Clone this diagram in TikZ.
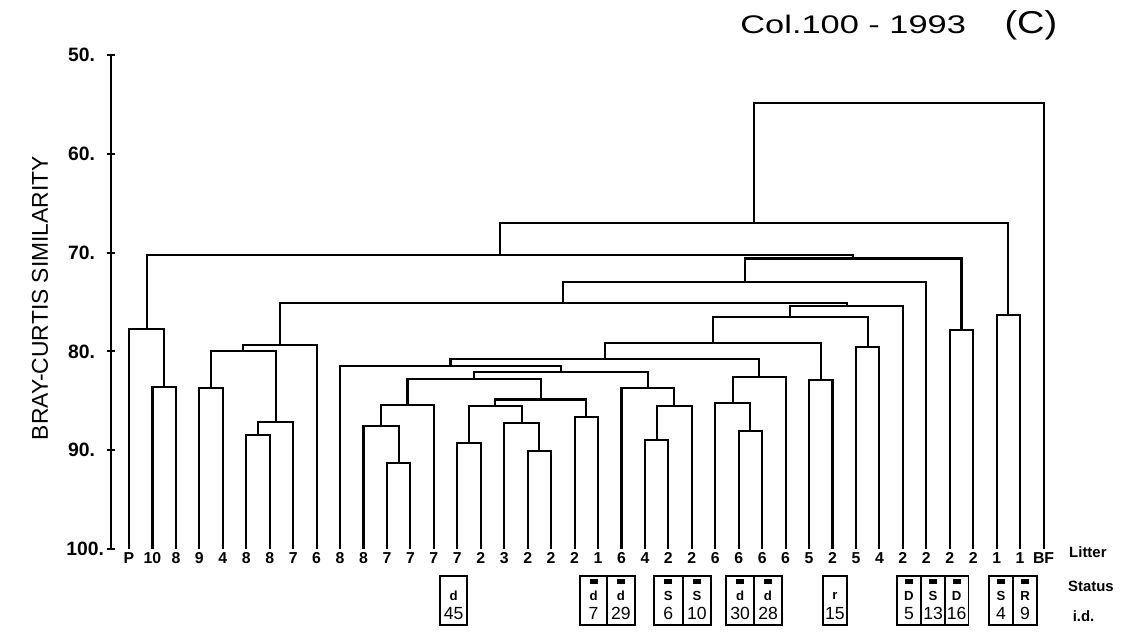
\documentclass[tikz,border=0pt]{standalone}
\usepackage{fontspec}
\setmainfont{Liberation Sans}
\usetikzlibrary{calc}

\begin{document}
\begin{tikzpicture}[
    x=0.469cm, y=-0.1976cm, % one leaf per x unit, similarity on y
    line width=1.2pt,
    leaf/.style={font=\bfseries\fontsize{9}{10}\selectfont, inner sep=0pt},
    tick/.style={font=\bfseries\fontsize{11}{12}\selectfont, anchor=east, inner sep=0pt},
    statbox/.style={draw, line width=1pt, minimum width=#1, minimum height=0.98cm, inner sep=0pt},
    status/.style={font=\bfseries\fontsize{7.5}{8}\selectfont, inner sep=0pt},
    idnum/.style={font=\fontsize{10}{11}\selectfont, inner sep=0pt},
    rowlabel/.style={font=\bfseries\fontsize{8.5}{9}\selectfont, anchor=west, inner sep=0pt}
]
\useasboundingbox (-5.501,44.433) rectangle (43.198,108.30);

% Title
\node[anchor=east, font=\fontsize{14.5}{16}\selectfont] (title) at (35.99,46.86) {\scalebox{1.35}[1]{Col.100 - 1993}};
\node[font=\fontsize{18}{20}\selectfont] (panel) at (38.46,47.0) {\scalebox{1.2}[1]{(C)}};

% Axis
\draw (-0.77,50) -- (-0.77,100);
\foreach \v in {50,60,...,100}
  \draw (-0.94,\v) -- (-0.6,\v);
\foreach \v in {50,60,...,90}
  \node[tick] at (-1.41,\v) {\v.};
\node[tick] at (-1.02,100) {100.};
\node[rotate=90, font=\fontsize{13}{15}\selectfont] (ylab) at (-3.8,74.6) {BRAY-CURTIS SIMILARITY};

% Leaves (litter size below)
\foreach \lab [count=\i from 0] in {P,10,8,9,4,8,8,7,6,8,8,7,7,7,7,2,3,2,2,2,1,6,4,2,2,6,6,6,6,5,2,5,4,2,2,2,2,1,1,BF} {
  \coordinate (l\i) at (\i,100);
  \node[leaf] (t\i) at (\i,100.95) {\lab};
}

% Merges: name/left/right/similarity
\foreach \n/\a/\b/\h in {
    a1/l1/l2/83.6, a2/l0/a1/77.73,
    b1/l3/l4/83.7, b2/l5/l6/88.46, b3/b2/l7/87.15, b4/b1/b3/79.96, b5/b4/l8/79.35,
    e1/l11/l12/91.3, e2/l10/e1/87.55, e3/e2/l13/85.43,
    f1/l14/l15/89.27, g1/l17/l18/90.08, g2/l16/g1/87.25, f2/f1/g2/85.53,
    h1/l19/l20/86.64, f3/f2/h1/84.87, f4/e3/f3/82.79,
    i1/l22/l23/88.97, i2/i1/l24/85.53, i3/l21/i2/83.7,
    f5/f4/i3/82.09, j1/l9/f5/81.48,
    d1/l26/l27/88.06, d2/l25/d1/85.22, d3/d2/l28/82.59,
    k1/j1/d3/80.77, m1/l29/l30/82.89, z1/k1/m1/79.15,
    n1/l31/l32/79.55, y1/z1/n1/76.52, x1/y1/l33/75.4,
    c1/b5/x1/75.1, c2/c1/l34/72.98, p1/l35/l36/77.83, c3/c2/p1/70.6,
    c4/a2/c3/70.24, q1/l37/l38/76.32, c5/c4/q1/67.0, top/c5/l39/54.86} {
  \coordinate (mid) at ($(\a)!0.5!(\b)$);
  \coordinate (lev) at (0,\h);
  \coordinate (\n) at (mid |- lev);
  \draw (\a) |- (\n) -| (\b);
}

% Status boxes: id/position/width/status/marked
\foreach \d/\p/\w/\s/\q in {
    45/13.84/0.54cm/d/0, 7/19.81/0.55cm/d/1, 29/20.98/0.55cm/d/1,
    6/23.0/0.57cm/S/1, 10/24.22/0.57cm/S/1, 30/26.06/0.56cm/d/1, 28/27.25/0.56cm/d/1,
    15/30.1/0.48cm/r/0, 5/33.26/0.48cm/D/1, 13/34.29/0.48cm/S/1, 16/35.29/0.48cm/D/1,
    4/37.19/0.48cm/S/1, 9/38.21/0.48cm/R/1} {
  \node[statbox=\w] (s\d) at (\p,105.2) {};
  \node[status] at (\p,104.76) {\s};
  \node[idnum] at (\p,106.5) {\d};
  \ifnum\q=1 \fill (\p,103.24) +(-0.08cm,-0.05cm) rectangle +(0.08cm,0.05cm); \fi
}

% Row labels
\node[rowlabel] (litter) at (40.05,100.3) {Litter};
\node[rowlabel] (status) at (40.0,103.75) {Status};
\node[rowlabel] (ident) at (40.2,106.8) {i.d.};

\end{tikzpicture}
\end{document}
